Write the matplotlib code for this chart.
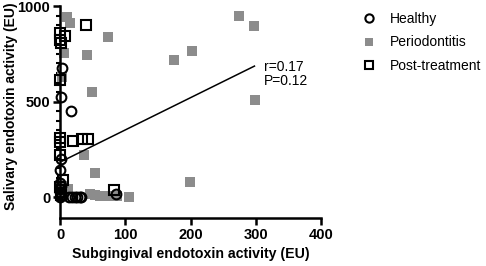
import matplotlib
matplotlib.use("Agg")
import matplotlib.pyplot as plt
from matplotlib.ticker import FixedLocator

plt.rcParams["font.family"] = ["Liberation Sans", "DejaVu Sans"]

# Healthy (open circles)
healthy_x = [3.5, 1.5, 17, 1, 0, 0, 0, 1, 13, 19, 23, 26, 31, 32, 86, 0, 2, 0, 1]
healthy_y = [677, 525, 450, 197, 141, 72, 28, 10, 2, 2, 2, 2, 2, 2, 14, 45, 60, 0, 20]

# Periodontitis (grey squares)
perio_x = [11, 15, 73, 6, 41, 175, 3, 49, 36, 54, 275, 297, 202, 299, 199,
           5, 8, 46, 54, 61, 74, 88, 106, 3, 12]
perio_y = [944, 913, 836, 757, 743, 717, 627, 550, 220, 124, 949, 897, 764, 511, 80,
           60, 30, 15, 10, 5, 5, 5, 0, 20, 40]

# Post-treatment (open squares)
post_x = [40, 0, 8, 0, 1, 0, 0, 0, 20, 33, 43, 0, 82, 4, 0, 2]
post_y = [900, 857, 843, 822, 808, 612, 307, 290, 295, 302, 302, 220, 37, 89, 52, 10]

# regression line ends
line_x = [3, 298]
line_y = [188, 686]

fig = plt.figure(figsize=(4.86, 2.66), dpi=100)
ax = fig.add_axes([0.1235, 0.180, 0.537, 0.797])

ax.plot(perio_x, perio_y, "s", color="#8c8c8c", markersize=6.5, markeredgewidth=0,
        clip_on=False, label="Periodontitis", zorder=2)
ax.plot(healthy_x, healthy_y, "o", markerfacecolor="none", markeredgecolor="black",
        markersize=7, markeredgewidth=1.5, clip_on=False, label="Healthy", zorder=3)
ax.plot(post_x, post_y, "s", markerfacecolor="none", markeredgecolor="black",
        markersize=7, markeredgewidth=1.5, clip_on=False, label="Post-treatment", zorder=3)
ax.plot(line_x, line_y, color="black", linewidth=1.1, zorder=4)

ax.text(313, 645, "r=0.17\nP=0.12", fontsize=10, va="center", ha="left", linespacing=1.05)

ax.set_xlim(0, 400)
ax.set_ylim(-110, 1000)
ax.set_xticks([0, 100, 200, 300, 400])
ax.set_yticks([0, 500, 1000])
ax.yaxis.set_minor_locator(FixedLocator([v for v in range(50, 1000, 50) if v != 500]))

for s in ["top", "right"]:
    ax.spines[s].set_visible(False)
for s in ["left", "bottom"]:
    ax.spines[s].set_linewidth(1.8)

ax.tick_params(axis="both", which="major", width=1.8, length=5, labelsize=10.5, pad=2)
ax.tick_params(axis="y", which="minor", width=1.5, length=3)
for lbl in ax.get_xticklabels() + ax.get_yticklabels():
    lbl.set_fontweight("bold")

ax.set_xlabel("Subgingival endotoxin activity (EU)", fontsize=10.2, fontweight="bold")
ax.set_ylabel("Salivary endotoxin activity (EU)", fontsize=10, fontweight="bold")
ax.xaxis.set_label_coords((191 - 60) / 261, (218 - 247) / 212, transform=ax.transAxes)
ax.yaxis.set_label_coords((18 - 60) / 261, (218 - 106) / 212, transform=ax.transAxes)

handles, labels = ax.get_legend_handles_labels()
order = [1, 0, 2]
fig.legend([handles[i] for i in order], [labels[i] for i in order],
           loc="upper left", bbox_to_anchor=(362 / 486, 1 - 12 / 266),
           bbox_transform=fig.transFigure, frameon=False, fontsize=10,
           handlelength=1.0, handletextpad=1.0, labelspacing=0.68,
           borderpad=0, borderaxespad=0, markerscale=0.85)

fig.savefig("out.png", dpi=100)
